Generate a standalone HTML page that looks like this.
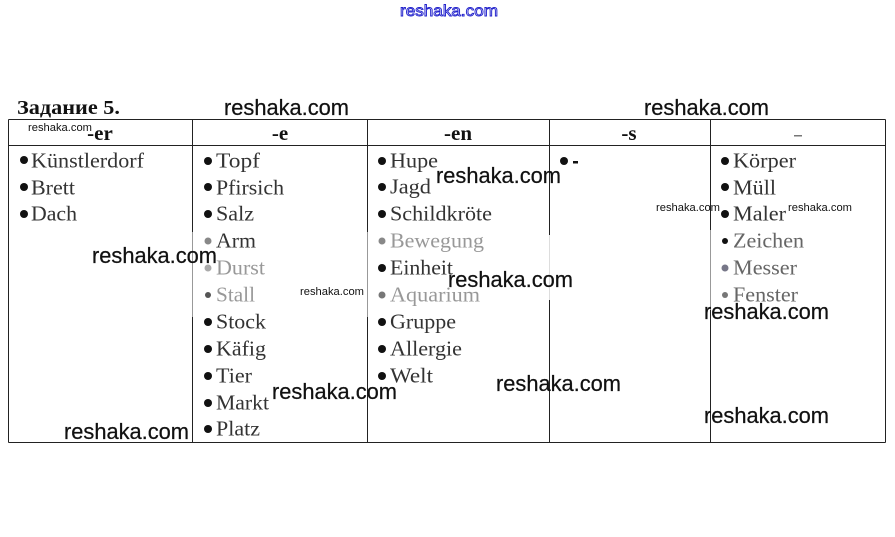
<!DOCTYPE html>
<html><head><meta charset="utf-8"><style>
html,body{margin:0;padding:0;background:#fff;width:895px;height:537px;overflow:hidden}
svg{display:block}
.w{font-family:"Liberation Sans",sans-serif;fill:#111;stroke:#111;stroke-width:.25}
.t{font-family:"Liberation Serif",serif;font-size:21px;fill:#333}
.h{font-family:"Liberation Serif",serif;font-size:21px;font-weight:bold;fill:#111}
.f{opacity:.5}
</style></head><body>
<svg width="895" height="537" viewBox="0 0 895 537" xmlns="http://www.w3.org/2000/svg">
<rect width="895" height="537" fill="#fff"/>
<g stroke="#222" stroke-width="1" fill="none">
<path d="M8.5 119.5H885.5M8.5 145.5H885.5M8.5 442.5H885.5"/>
<path d="M8.5 119.5V442.5M192.5 119.5V232M192.5 317V442.5M367.5 119.5V232M367.5 317V442.5M549.5 119.5V235M549.5 300V442.5M710.5 119.5V230M710.5 310V442.5M885.5 119.5V442.5"/>
</g>
<g stroke="#999" stroke-width="1" fill="none"><path d="M192.5 232V317M710.5 230V310M367.5 232V317"/></g>
<path d="M549.5 235V300" stroke="#ddd" stroke-width="1" fill="none"/>
<text x="17" y="114" font-family="Liberation Serif,serif" font-size="20" font-weight="bold" fill="#111" textLength="103" lengthAdjust="spacingAndGlyphs">Задание 5.</text>
<g class="h" text-anchor="middle">
<text x="100" y="140">-er</text><text x="280" y="140">-e</text><text x="458" y="140">-en</text><text x="629" y="140">-s</text>
</g>
<rect x="794" y="135" width="8" height="1.5" fill="#777"/>
<g fill="#111">
<circle cx="24" cy="160" r="4"/><circle cx="24" cy="187" r="4"/><circle cx="24" cy="214" r="4"/>
<circle cx="208" cy="161" r="4"/><circle cx="208" cy="187" r="4"/><circle cx="208" cy="214" r="4"/><circle cx="208" cy="241" r="3.5" fill="#888"/><circle cx="208" cy="268" r="3.5" fill="#aaa"/><circle cx="208" cy="295" r="3" fill="#555"/><circle cx="208" cy="322" r="4"/><circle cx="208" cy="349" r="4"/><circle cx="208" cy="376" r="4"/><circle cx="208" cy="403" r="4"/><circle cx="208" cy="429" r="4"/>
<circle cx="382" cy="161" r="4"/><circle cx="382" cy="187" r="4"/><circle cx="382" cy="214" r="4"/><circle cx="382" cy="241" r="3.5" fill="#888"/><circle cx="382" cy="268" r="4"/><circle cx="382" cy="295" r="3.5" fill="#777"/><circle cx="382" cy="322" r="4"/><circle cx="382" cy="349" r="4"/><circle cx="382" cy="376" r="4"/>
<circle cx="564" cy="161" r="4"/><rect x="573" y="161" width="5" height="2.5"/>
<circle cx="725" cy="161" r="4"/><circle cx="725" cy="187" r="4"/><circle cx="725" cy="214" r="4"/><circle cx="725" cy="241" r="3"/><circle cx="725" cy="268" r="3.5" fill="#778"/><circle cx="725" cy="295" r="3" fill="#777"/>
</g>
<g class="t">
<text x="31" y="167.5" textLength="113" lengthAdjust="spacingAndGlyphs">Künstlerdorf</text>
<text x="31" y="194.5" textLength="44" lengthAdjust="spacingAndGlyphs">Brett</text>
<text x="31" y="220.5" textLength="46" lengthAdjust="spacingAndGlyphs">Dach</text>
<text x="216" y="167.5" textLength="44" lengthAdjust="spacingAndGlyphs">Topf</text>
<text x="216" y="194.5" textLength="68" lengthAdjust="spacingAndGlyphs">Pfirsich</text>
<text x="216" y="220.5" textLength="38" lengthAdjust="spacingAndGlyphs">Salz</text>
<text x="216" y="247.5" textLength="40" lengthAdjust="spacingAndGlyphs">Arm</text>
<text x="216" y="274.5" textLength="49" lengthAdjust="spacingAndGlyphs" class="f">Durst</text>
<text x="216" y="301.5" textLength="39" lengthAdjust="spacingAndGlyphs" class="f">Stall</text>
<text x="216" y="328.5" textLength="50" lengthAdjust="spacingAndGlyphs">Stock</text>
<text x="216" y="355.5" textLength="50" lengthAdjust="spacingAndGlyphs">Käfig</text>
<text x="216" y="382.5" textLength="36" lengthAdjust="spacingAndGlyphs">Tier</text>
<text x="216" y="409.5" textLength="53" lengthAdjust="spacingAndGlyphs">Markt</text>
<text x="216" y="435.5" textLength="44" lengthAdjust="spacingAndGlyphs">Platz</text>
<text x="390" y="167.5" textLength="48" lengthAdjust="spacingAndGlyphs">Hupe</text>
<text x="390" y="193.5" textLength="41" lengthAdjust="spacingAndGlyphs">Jagd</text>
<text x="390" y="220.5" textLength="102" lengthAdjust="spacingAndGlyphs">Schildkröte</text>
<text x="390" y="247.5" textLength="94" lengthAdjust="spacingAndGlyphs" class="f">Bewegung</text>
<text x="390" y="274.5" textLength="63" lengthAdjust="spacingAndGlyphs">Einheit</text>
<text x="390" y="301.5" textLength="90" lengthAdjust="spacingAndGlyphs" class="f">Aquarium</text>
<text x="390" y="328.5" textLength="66" lengthAdjust="spacingAndGlyphs">Gruppe</text>
<text x="390" y="355.5" textLength="72" lengthAdjust="spacingAndGlyphs">Allergie</text>
<text x="390" y="382.5" textLength="43" lengthAdjust="spacingAndGlyphs">Welt</text>
<text x="733" y="167.5" textLength="63" lengthAdjust="spacingAndGlyphs">Körper</text>
<text x="733" y="194.5" textLength="43" lengthAdjust="spacingAndGlyphs">Müll</text>
<text x="733" y="220.5" textLength="53" lengthAdjust="spacingAndGlyphs">Maler</text>
<text x="733" y="247.5" textLength="71" lengthAdjust="spacingAndGlyphs" fill="#666">Zeichen</text>
<text x="733" y="274.5" textLength="64" lengthAdjust="spacingAndGlyphs" fill="#666">Messer</text>
<text x="733" y="301.5" textLength="65" lengthAdjust="spacingAndGlyphs" fill="#666">Fenster</text>
</g>
<g class="w" font-size="22">
<text x="224" y="115" textLength="125" lengthAdjust="spacingAndGlyphs">reshaka.com</text>
<text x="644" y="115" textLength="125" lengthAdjust="spacingAndGlyphs">reshaka.com</text>
<text x="436" y="183" textLength="125" lengthAdjust="spacingAndGlyphs">reshaka.com</text>
<text x="92" y="263" textLength="125" lengthAdjust="spacingAndGlyphs">reshaka.com</text>
<text x="448" y="287" textLength="125" lengthAdjust="spacingAndGlyphs">reshaka.com</text>
<text x="704" y="319" textLength="125" lengthAdjust="spacingAndGlyphs">reshaka.com</text>
<text x="496" y="391" textLength="125" lengthAdjust="spacingAndGlyphs">reshaka.com</text>
<text x="272" y="399" textLength="125" lengthAdjust="spacingAndGlyphs">reshaka.com</text>
<text x="704" y="423" textLength="125" lengthAdjust="spacingAndGlyphs">reshaka.com</text>
<text x="64" y="439" textLength="125" lengthAdjust="spacingAndGlyphs">reshaka.com</text>
</g>
<g class="w" font-size="11" style="stroke-width:0">
<text x="28" y="131" textLength="64" lengthAdjust="spacingAndGlyphs">reshaka.com</text>
<text x="300" y="295" textLength="64" lengthAdjust="spacingAndGlyphs">reshaka.com</text>
<text x="656" y="211" textLength="64" lengthAdjust="spacingAndGlyphs">reshaka.com</text>
<text x="788" y="211" textLength="64" lengthAdjust="spacingAndGlyphs">reshaka.com</text>
</g>
<text x="400" y="16" font-family="Liberation Sans,sans-serif" font-size="16" fill="#fff" stroke="#2222cc" stroke-width=".9" textLength="98" lengthAdjust="spacingAndGlyphs">reshaka.com</text>
</svg>
</body></html>
